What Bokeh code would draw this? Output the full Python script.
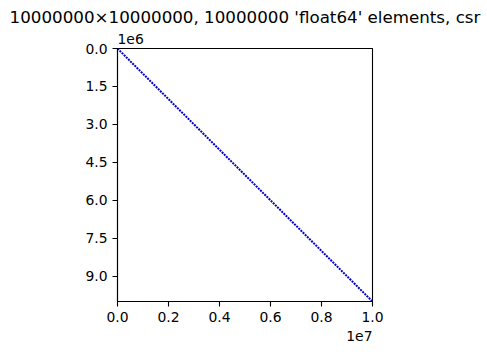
from bokeh.plotting import figure
from bokeh.models import Range1d, FixedTicker, Title, ColumnDataSource
from bokeh.embed import file_html
from bokeh.resources import INLINE

# ---- data ----
n_rows = 10000000
n_cols = 10000000
nnz = 10000000
dtype_name = "float64"
fmt = "csr"
# nonzero pattern: the main diagonal, from first to last element
diag_cols = [0, 10000000]
diag_rows = [0, 10000000]

x_ticks = [0, 2000000, 4000000, 6000000, 8000000, 10000000]
x_tick_labels = ["0.0", "0.2", "0.4", "0.6", "0.8", "1.0"]
y_ticks = [0, 1500000, 3000000, 4500000, 6000000, 7500000, 9000000]
y_tick_labels = ["0.0", "1.5", "3.0", "4.5", "6.0", "7.5", "9.0"]
x_exponent = "1e7"
y_exponent = "1e6"

title = f"{n_rows}\u00d7{n_cols}, {nnz} '{dtype_name}' elements, {fmt}"

FONT = "DejaVu Sans"

p = figure(width=487, height=354, output_backend="svg", toolbar_location=None,
           x_range=Range1d(0, n_cols), y_range=Range1d(n_rows, 0),
           min_border_left=117, min_border_right=115,
           min_border_top=48, min_border_bottom=53, title=None)

p.grid.visible = False
p.background_fill_color = "white"
p.border_fill_color = "white"
p.outline_line_color = "black"
p.outline_line_width = 1.1
p.outline_line_alpha = 1

for ax in (p.xaxis[0], p.yaxis[0]):
    ax.axis_line_color = "black"
    ax.axis_line_width = 1.1
    ax.major_tick_line_color = "black"
    ax.major_tick_line_width = 1.1
    ax.major_tick_out = 5
    ax.major_tick_in = 0
    ax.minor_tick_line_color = None
    ax.major_label_text_font = FONT
    ax.major_label_text_font_size = "13.9px"
    ax.major_label_text_color = "black"
    ax.major_label_standoff = 5

p.xaxis[0].ticker = FixedTicker(ticks=x_ticks)
p.xaxis[0].major_label_overrides = {t: l for t, l in zip(x_ticks, x_tick_labels)}
p.yaxis[0].ticker = FixedTicker(ticks=y_ticks)
p.yaxis[0].major_label_overrides = {t: l for t, l in zip(y_ticks, y_tick_labels)}

src = ColumnDataSource(dict(x=diag_cols, y=diag_rows))
p.line("x", "y", source=src, line_color="#0000c8", line_width=2,
       line_dash="2 1", line_cap="butt")

# exponent (offset) texts, as in matplotlib
p.add_layout(Title(text=y_exponent, align="left", text_font=FONT,
                   text_font_size="13.9px", text_font_style="normal",
                   text_color="black", standoff=10), "above")
p.add_layout(Title(text=title, align="center", text_font=FONT,
                   text_font_size="16.7px", text_font_style="normal",
                   text_color="black", standoff=0), "above")
p.add_layout(Title(text=x_exponent, align="right", text_font=FONT,
                   text_font_size="13.9px", text_font_style="normal",
                   text_color="black", standoff=9), "below")

open("out.html", "w").write(file_html(p, INLINE))
